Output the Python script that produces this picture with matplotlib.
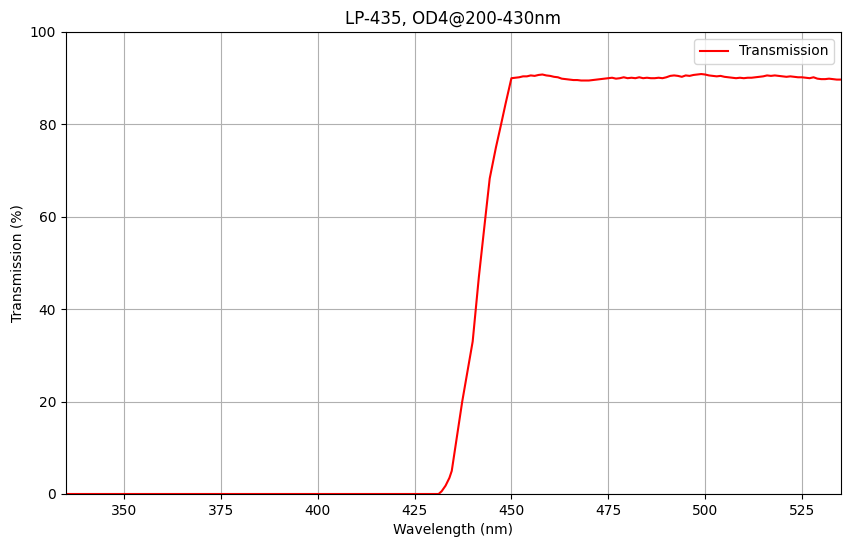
import matplotlib
matplotlib.use("Agg")
import matplotlib.pyplot as plt
import numpy as np

# Rising edge of the filter
edge_wl = [335, 431.2, 432, 433, 434, 434.6, 437.3, 440, 441.6, 443.3, 444.4, 446, 447.2, 448.5]
edge_t = [0, 0, 0.6, 1.8, 3.5, 5.0, 20, 33, 47, 60, 68.3, 75, 79.5, 84.5]

# Plateau 450-535 nm (1 nm steps)
plateau_wl = list(range(450, 536))
plateau_t = [90.0, 90.1, 90.2, 90.4, 90.4, 90.6, 90.5, 90.7, 90.8, 90.6,
             90.5, 90.3, 90.2, 89.9, 89.8, 89.7, 89.6, 89.6, 89.5, 89.5,
             89.5, 89.6, 89.7, 89.8, 89.9, 90.0, 90.1, 89.9, 90.0, 90.2,
             90.0, 90.1, 90.0, 90.2, 90.0, 90.1, 90.0, 90.0, 90.1, 90.0,
             90.2, 90.5, 90.6, 90.5, 90.3, 90.6, 90.5, 90.7, 90.8, 90.9,
             90.8, 90.6, 90.5, 90.4, 90.5, 90.3, 90.2, 90.1, 90.0, 90.1,
             90.0, 90.1, 90.1, 90.2, 90.3, 90.4, 90.6, 90.5, 90.6, 90.5,
             90.4, 90.3, 90.4, 90.3, 90.2, 90.2, 90.1, 90.0, 90.2, 89.9,
             89.8, 89.8, 89.9, 89.8, 89.7, 89.7]

wavelength = edge_wl + plateau_wl
transmission = edge_t + plateau_t

fig = plt.figure(figsize=(8.5, 5.47), dpi=100)
ax = fig.add_axes([0.0776, 0.0969, 0.9114, 0.8446])
ax.plot(wavelength, transmission, color="red", label="Transmission")
ax.set_xlim(335, 535)
ax.set_ylim(0, 100)
ax.set_xlabel("Wavelength (nm)")
ax.set_ylabel("Transmission (%)")
ax.set_title("LP-435, OD4@200-430nm")
ax.grid(True)
ax.legend(loc="upper right")
fig.savefig("out.png", dpi=100)
